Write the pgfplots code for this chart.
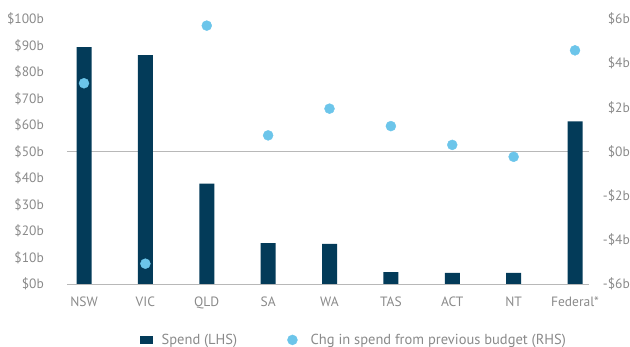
\documentclass[border=0pt]{standalone}
\usepackage{fontspec}
\setmainfont{PT Sans}
\usepackage{pgfplots}
\pgfplotsset{compat=1.18}
\definecolor{bardark}{HTML}{033B59}
\definecolor{dotblue}{HTML}{6CC5EA}
\definecolor{txtgray}{HTML}{8A8A8A}
\definecolor{linegray}{HTML}{B8B8B8}
\begin{document}
\begin{tikzpicture}
\pgfplotsset{
  base/.style={
    scale only axis, width=522bp, height=265bp,
    xmin=-0.277, xmax=8.228,
    axis line style={draw=none},
    major tick length=0pt,
    tick label style={font=\fontsize{13.5bp}{16bp}\selectfont, text=txtgray, inner sep=0pt},
    /pgf/number format/assume math mode=true,
  }
}
\path[use as bounding box] (-67bp,-63bp) rectangle (563bp,284bp);
\begin{axis}[base, at={(0,0)}, anchor=south west,
  ymin=0, ymax=100, ytick={0,10,...,100},
  yticklabels={\$0b,\$10b,\$20b,\$30b,\$40b,\$50b,\$60b,\$70b,\$80b,\$90b,\$100b},
  yticklabel style={anchor=east, xshift=-23bp},
  xtick={0,...,8}, xticklabels={NSW,VIC,QLD,SA,WA,TAS,ACT,NT,Federal*},
  xticklabel style={anchor=north, yshift=-13bp},
  major grid style={linegray, line width=0.8pt},
  extra y ticks={0,50}, extra y tick labels={},
  extra y tick style={grid=major},
]
\addplot[ybar, bar width=15bp, fill=bardark, draw=none] coordinates {
(0,89.4) (1,86.4) (2,37.9) (3,15.4) (4,15.1) (5,4.5) (6,4.2) (7,4.2) (8,61.4)};
\end{axis}
\begin{axis}[base, at={(0,0)}, anchor=south west,
  ymin=-6, ymax=6, ytick={-6,-4,...,6},
  yticklabels={-\$6b,-\$4b,-\$2b,\$0b,\$2b,\$4b,\$6b},
  yticklabel pos=right,
  yticklabel style={anchor=east, xshift=41bp},
  xtick=\empty,
  legend style={at={(axis description cs:0.55,-0.211)}, anchor=center,
    draw=none, fill=none, font=\fontsize{14.5bp}{17bp}\selectfont, text=txtgray,
    legend columns=2, /tikz/every even column/.append style={column sep=48bp}},
  legend cell align=left,
]
\addlegendimage{legend image code/.code={\fill[bardark] (0bp,-3.5bp) rectangle (12bp,3.5bp); \path (19bp,0bp);}}
\addlegendentry{Spend (LHS)}
\addplot[only marks, mark=*, mark size=5bp, color=dotblue, mark options={draw=none, fill=dotblue},
  legend image code/.code={\fill[dotblue] (5bp,0bp) circle (5bp); \path (21bp,0bp);}] coordinates {
(0,3.09) (1,-5.08) (2,5.70) (3,0.73) (4,1.94) (5,1.15) (6,0.30) (7,-0.24) (8,4.58)};
\addlegendentry{Chg in spend from previous budget (RHS)}
\end{axis}
\end{tikzpicture}
\end{document}
